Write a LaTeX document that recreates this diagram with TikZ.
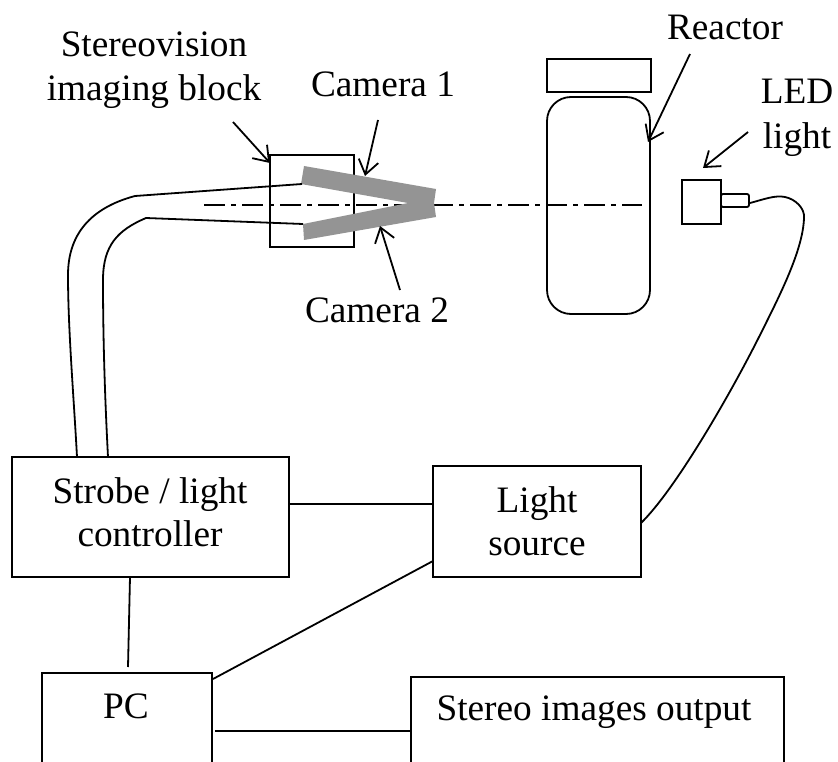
\documentclass[tikz,border=0pt]{standalone}
\usepackage{fontspec}
\setmainfont{Liberation Serif}
\usetikzlibrary{arrows.meta}
\tikzset{
  lbl/.style={inner sep=0pt,font=\fontsize{37.3}{43}\selectfont,align=center},
  blockbox/.style={draw,line width=1.8pt,inner sep=0pt},
  ptr/.style={line width=1.8pt,-{Straight Barb[length=14pt,width=20pt,line width=1.8pt]}},
  wire/.style={line width=1.8pt}
}
\begin{document}
\begin{tikzpicture}[x=1pt,y=-1pt]
\useasboundingbox (0,0) rectangle (838,762);
% optical axis
\coordinate (axL) at (204,205);
\coordinate (axR) at (642,205);
\draw[line width=1.6pt,dash pattern=on 21pt off 6pt on 5pt off 6pt] (axL) -- (axR);
% imaging block
\node[blockbox,minimum width=84pt,minimum height=92pt] (block) at (312,201) {};
\coordinate (c1) at (302,184);
\coordinate (c2) at (303,224);
\fill[black!42] (304,166) -- (436,189) -- (434,203) -- (436,217) -- (304,240) -- (303,224) -- (408,203) -- (301,184) -- cycle;
% boxes
\node[blockbox,minimum width=277pt,minimum height=120pt] (strobe) at (150.5,517) {};
\node[blockbox,minimum width=208pt,minimum height=111pt] (light) at (537,521.5) {};
\node[blockbox,minimum width=170pt,minimum height=120pt] (pc) at (127,733) {};
\node[blockbox,minimum width=373pt,minimum height=120pt] (out) at (597.5,737) {};
% cables to controller
\coordinate (s1) at (77,457);
\coordinate (s2) at (108,457);
\draw[wire] (s1) .. controls (74,400) and (68,330) .. (68,275) .. controls (68,235) and (90,208) .. (135,196) -- (c1);
\draw[wire] (s2) .. controls (105,400) and (103,340) .. (103,280) .. controls (103,245) and (118,230) .. (146,218) -- (c2);
% connectors
\draw[wire] (289,504) -- (433,504);
\draw[wire] (130,577) -- (128,667);
\draw[wire] (433,561) -- (213,679);
\draw[wire] (215,731) -- (411,731);
% reactor
\node[blockbox,minimum width=104pt,minimum height=33pt] (lid) at (599,75.5) {};
\node[blockbox,rounded corners=24pt,minimum width=103pt,minimum height=217pt] (reactor) at (598.5,205.5) {};
% LED
\node[blockbox,minimum width=39pt,minimum height=44pt] (led) at (701.5,202) {};
\node[blockbox,rounded corners=2pt,minimum width=28pt,minimum height=13pt] (stub) at (735,200.5) {};
\draw[wire] (750,203) .. controls (765,199) and (775,195) .. (785,197) .. controls (795,199) and (805,208) .. (804,218) .. controls (803,250) and (780,295) .. (760,335) .. controls (730,395) and (675,490) .. (641,523);
% labels
\node[lbl] (tStereo) at (154,70) {Stereovision\\[1pt]imaging block};
\node[lbl] (tCam1) at (383,84) {Camera 1};
\node[lbl] (tCam2) at (377,310) {Camera 2};
\node[lbl] (tReactor) at (725,27) {Reactor};
\node[lbl] (tLed) at (797,118) {LED\\[2pt]light};
\node[lbl] (tStrobe) at (150,512) {Strobe / light\\controller};
\node[lbl] (tLight) at (537,521) {Light\\source};
\node[lbl] (tPC) at (126,706) {PC};
\node[lbl] (tOut) at (594,712) {Stereo images output};
% pointers
\coordinate (p1s) at (233,122); \coordinate (p1e) at (270,163);
\coordinate (p2s) at (378,120); \coordinate (p2e) at (365,176);
\coordinate (p3s) at (400,290); \coordinate (p3e) at (380,226);
\coordinate (p4s) at (690,54);  \coordinate (p4e) at (648,142);
\coordinate (p5s) at (748,132); \coordinate (p5e) at (703,168);
\draw[ptr] (p1s) -- (p1e);
\draw[ptr] (p2s) -- (p2e);
\draw[ptr] (p3s) -- (p3e);
\draw[ptr] (p4s) -- (p4e);
\draw[ptr] (p5s) -- (p5e);
\end{tikzpicture}
\end{document}
